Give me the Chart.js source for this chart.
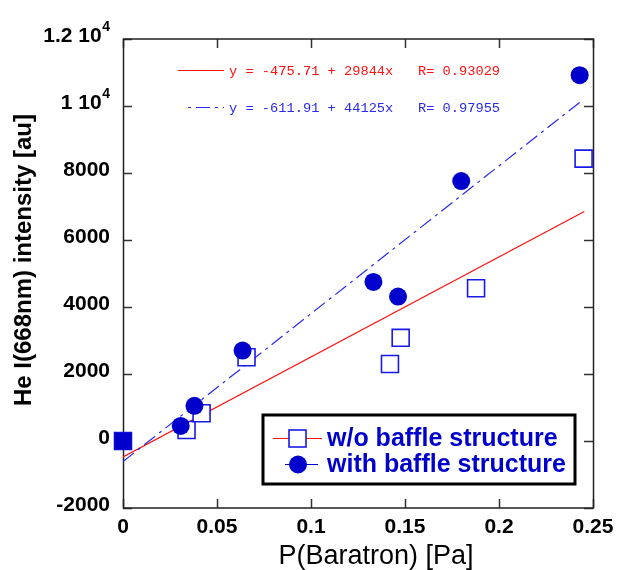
<!DOCTYPE html>
<html>
<head>
<meta charset="utf-8">
<script src="https://cdn.jsdelivr.net/npm/chart.js@4.4.1/dist/chart.umd.min.js"></script>
<style>
  html, body { margin: 0; padding: 0; background: #ffffff; }
  #grafico { display: block; }
</style>
</head>
<body>
<canvas id="grafico" width="619" height="570"></canvas>
<script>
// dados
const semBaffleX = [0, 0.0338, 0.0418, 0.0657, 0.142, 0.1477, 0.1878, 0.245];
const semBaffleY = [0, 330, 830, 2500, 2300, 3080, 4560, 8430];
const comBaffleX = [0, 0.0307, 0.038, 0.0636, 0.1332, 0.1463, 0.1799, 0.2429];
const comBaffleY = [0, 450, 1050, 2700, 4750, 4310, 7760, 10920];

// retas de ajuste (pontas)
const ajusteVermelhoX = [0, 0.2454];
const ajusteVermelhoY = [-476, 6848];
const ajusteAzulX = [0, 0.2429];
const ajusteAzulY = [-612, 10106];

const xTicks = [0, 0.05, 0.1, 0.15, 0.2, 0.25];
const yTicks = [-2000, 0, 2000, 4000, 6000, 8000, 10000, 12000];

const legendas = ['w/o baffle structure', 'with baffle structure'];
const equacoes = ['y = -475.71 + 29844x   R= 0.93029', 'y = -611.91 + 44125x   R= 0.97955'];
const tituloX = 'P(Baratron) [Pa]';
const tituloY = 'He I(668nm) intensity [au]';

const AZUL = '#0000cc';
const AZUL_BORDA = '#1a1ae6';
const VERMELHO = '#ff1010';

function pontos(xs, ys) {
    return xs.map((x, i) => ({ x: x, y: ys[i] }));
}

// primeiro ponto "com baffle" aparece como quadrado cheio
const estiloCom = comBaffleX.map((x, i) => i == 0 ? 'rect' : 'circle');
const raioCom = comBaffleX.map((x, i) => i == 0 ? 12 : 9);

// moldura, marcas dos eixos, rotulos do eixo y, titulos, legenda
const enfeites = {
    id: 'enfeites',
    beforeDatasetsDraw(chart) {
        const ctx = chart.ctx;
        const a = chart.chartArea;
        const sx = chart.scales.x;
        const sy = chart.scales.y;
        ctx.save();
        ctx.strokeStyle = '#333';
        ctx.lineWidth = 1.5;
        ctx.beginPath();
        xTicks.forEach((v) => {
            const px = Math.round(sx.getPixelForValue(v)) + 0.5;
            ctx.moveTo(px, a.bottom); ctx.lineTo(px, a.bottom - 9);
            ctx.moveTo(px, a.top); ctx.lineTo(px, a.top + 9);
        });
        yTicks.forEach((v) => {
            const py = Math.round(sy.getPixelForValue(v)) + 0.5;
            ctx.moveTo(a.left, py); ctx.lineTo(a.left + 9, py);
            ctx.moveTo(a.right, py); ctx.lineTo(a.right - 9, py);
        });
        ctx.stroke();
        ctx.strokeStyle = '#222';
        ctx.strokeRect(a.left + 0.5, a.top, a.right - a.left, a.bottom - a.top);
        ctx.restore();
    },
    afterDraw(chart) {
        const ctx = chart.ctx;
        const sy = chart.scales.y;
        ctx.save();

        // rotulos y
        ctx.fillStyle = '#000';
        ctx.textAlign = 'right';
        ctx.textBaseline = 'alphabetic';
        yTicks.forEach((v) => {
            const py = sy.getPixelForValue(v) + 2.5;
            if (v >= 10000) {
                ctx.font = 'bold 14px "Liberation Sans"';
                ctx.fillText('4', 110, py - 11);
                const w = ctx.measureText('4').width;
                ctx.font = 'bold 21px "Liberation Sans"';
                ctx.fillText((v / 10000) + ' 10', 110 - w - 0.5, py);
            } else {
                ctx.font = 'bold 21px "Liberation Sans"';
                ctx.fillText(String(v), 110, py);
            }
        });

        // titulo y
        ctx.save();
        ctx.translate(24, 260);
        ctx.rotate(-Math.PI / 2);
        ctx.textAlign = 'center';
        ctx.textBaseline = 'middle';
        ctx.font = 'bold 24px "Liberation Sans"';
        ctx.fillText(tituloY, 0, 0);
        ctx.restore();

        // titulo x
        ctx.textAlign = 'center';
        ctx.textBaseline = 'alphabetic';
        ctx.font = '27px "Liberation Sans"';
        ctx.fillText(tituloX, 376, 564);

        // equacoes dos ajustes
        ctx.textAlign = 'left';
        ctx.textBaseline = 'middle';
        ctx.font = '13.7px "Liberation Mono"';
        ctx.lineWidth = 1.2;
        ctx.strokeStyle = VERMELHO;
        ctx.beginPath(); ctx.moveTo(178, 70.5); ctx.lineTo(224, 70.5); ctx.stroke();
        ctx.fillStyle = VERMELHO;
        ctx.fillText(equacoes[0], 229, 71);
        ctx.strokeStyle = '#2a2aee';
        ctx.setLineDash([3, 5, 14, 5]);
        ctx.beginPath(); ctx.moveTo(188, 107.5); ctx.lineTo(224, 107.5); ctx.stroke();
        ctx.setLineDash([]);
        ctx.fillStyle = '#2a2aee';
        ctx.fillText(equacoes[1], 229, 108);

        // legenda
        ctx.lineWidth = 3;
        ctx.strokeStyle = '#000';
        ctx.fillStyle = '#fff';
        ctx.fillRect(263, 415, 312, 69);
        ctx.strokeRect(263, 415, 312, 69);

        ctx.lineWidth = 1.2;
        ctx.strokeStyle = VERMELHO;
        ctx.beginPath(); ctx.moveTo(273, 438.5); ctx.lineTo(322, 438.5); ctx.stroke();
        ctx.fillStyle = '#fff';
        ctx.fillRect(289, 430, 17, 17);
        ctx.lineWidth = 1.6;
        ctx.strokeStyle = AZUL_BORDA;
        ctx.strokeRect(289, 430, 17, 17);

        ctx.lineWidth = 1.2;
        ctx.strokeStyle = AZUL;
        ctx.beginPath(); ctx.moveTo(285, 464.5); ctx.lineTo(318, 464.5); ctx.stroke();
        ctx.fillStyle = AZUL;
        ctx.beginPath(); ctx.arc(298, 464.5, 9, 0, Math.PI * 2); ctx.fill();

        ctx.font = 'bold 25px "Liberation Sans"';
        ctx.textBaseline = 'alphabetic';
        ctx.fillStyle = AZUL;
        ctx.fillText(legendas[0], 327, 445.5);
        ctx.fillText(legendas[1], 327, 471.5);

        ctx.restore();
    }
};

Chart.defaults.font.family = '"Liberation Sans", Arial, sans-serif';
Chart.defaults.color = '#000';

var ctx = document.getElementById('grafico');
var chartGraph = new Chart(ctx, {
    type: 'scatter',
    data: {
        datasets: [
            {
                label: legendas[1],
                data: pontos(comBaffleX, comBaffleY),
                pointStyle: estiloCom,
                pointRadius: raioCom,
                pointBackgroundColor: AZUL,
                pointBorderColor: AZUL,
                pointBorderWidth: 0,
                showLine: false,
                clip: false,
                order: 1
            },
            {
                label: legendas[0],
                data: pontos(semBaffleX, semBaffleY),
                pointStyle: 'rect',
                pointRadius: 12,
                pointBackgroundColor: '#ffffff',
                pointBorderColor: AZUL_BORDA,
                pointBorderWidth: 1.6,
                showLine: false,
                clip: false,
                order: 2
            },
            {
                label: 'ajuste com baffle',
                data: pontos(ajusteAzulX, ajusteAzulY),
                showLine: true,
                borderColor: '#2a2aee',
                borderWidth: 1.2,
                borderDash: [14, 5, 3, 5],
                pointRadius: 0,
                order: 3
            },
            {
                label: 'ajuste sem baffle',
                data: pontos(ajusteVermelhoX, ajusteVermelhoY),
                showLine: true,
                borderColor: VERMELHO,
                borderWidth: 1.2,
                pointRadius: 0,
                order: 4
            }
        ]
    },
    options: {
        responsive: false,
        animation: false,
        devicePixelRatio: 1,
        layout: { padding: { left: 0, right: 26, top: 39, bottom: 0 } },
        plugins: {
            legend: { display: false },
            tooltip: { enabled: false }
        },
        scales: {
            x: {
                type: 'linear',
                min: 0,
                max: 0.25,
                afterBuildTicks: (scale) => { scale.ticks = xTicks.map((v) => ({ value: v })); },
                ticks: {
                    font: { size: 21, weight: 'bold' },
                    color: '#000',
                    padding: -1,
                    maxRotation: 0,
                    callback: (v) => String(Math.round(v * 100) / 100)
                },
                grid: { display: false },
                border: { display: false },
                afterFit: (scale) => { scale.height = 62; }
            },
            y: {
                type: 'linear',
                min: -2000,
                max: 12000,
                afterBuildTicks: (scale) => { scale.ticks = yTicks.map((v) => ({ value: v })); },
                ticks: { display: false },
                grid: { display: false },
                border: { display: false },
                afterFit: (scale) => { scale.width = 123; }
            }
        }
    },
    plugins: [enfeites]
});
</script>
</body>
</html>
